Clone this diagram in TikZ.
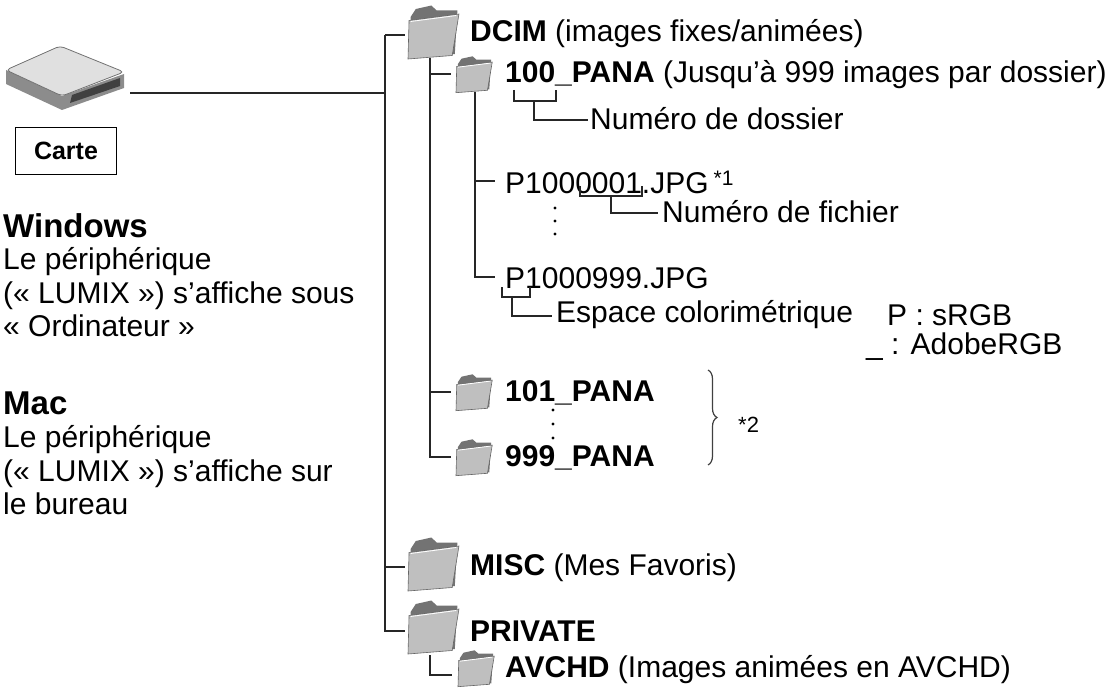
\documentclass[tikz,border=0pt]{standalone}
\usepackage{fontspec}
\setmainfont{Liberation Sans}
\usetikzlibrary{decorations.pathreplacing}
\begin{document}
\begin{tikzpicture}[x=1pt,y=-1pt,
  tx/.style={anchor=west,inner sep=0pt,font=\fontsize{30}{33}\selectfont},
  bl/.style={anchor=base west,inner sep=0pt,font=\fontsize{30}{33}\selectfont},
  hd/.style={anchor=base west,inner sep=0pt,font=\fontsize{33}{36}\selectfont\bfseries},
  ln/.style={line width=1.3pt,black!85},
  folder/.pic={
    \fill[black!55] (0.05,0.18)--(0.05,1)--(0.9,0.92)--(0.95,0.05)--(0.55,0.05)--(0.45,-0.05)--(0.15,0.02)--cycle;
    \filldraw[fill=black!25,draw=black!60,line width=0.6pt] (0.02,0.25)--(0.0,1.02)--(0.85,0.95)--(0.98,0.12)--cycle;
    \draw[white,line width=0.8pt] (0.05,0.27)--(0.93,0.15);
  }]
\useasboundingbox (0,0) rectangle (1109,690);
% card icon
\fill[black!45] (6,70)--(6,84)--(62,110)--(124,88)--(124,74)--(62,96)--cycle;
\filldraw[fill=black!12,draw=black!55,line width=0.8pt,rounded corners=4pt] (6,70)--(60,46)--(124,72)--(62,96)--cycle;
\fill[black!75] (70,103)--(120,86)--(120,78)--(72,95)--cycle;
\coordinate (cardR) at (130,93);
\node[draw,line width=1pt,minimum width=101pt,minimum height=47pt,inner sep=0pt,font=\fontsize{25}{28}\selectfont\bfseries] (carte) at (66,151) {Carte};
% left texts
\node[hd] (win) at (3,237) {Windows};
\node[bl] (w1) at (3,269) {Le périphérique};
\node[bl] (w2) at (3,303) {(« LUMIX ») s’affiche sous};
\node[bl] (w3) at (3,336) {« Ordinateur »};
\node[hd] (mac) at (3,414) {Mac};
\node[bl] (m1) at (3,447) {Le périphérique};
\node[bl] (m2) at (3,481) {(« LUMIX ») s’affiche sur};
\node[bl] (m3) at (3,514) {le bureau};
% main tree
\coordinate (t0) at (385,35);
\coordinate (t1) at (385,93);
\coordinate (t2) at (385,567);
\coordinate (t3) at (385,631);
\draw[ln] (cardR)--(t1);
\draw[ln] (t0)--(t3)--(405,631);
\draw[ln] (t0)--(405,35);
\draw[ln] (t2)--(405,567);
\pic at (408,8) [xscale=52,yscale=50] {folder};
\node[tx] (dcim) at (470,34) {\textbf{DCIM} (images fixes/animées)};
\pic at (408,540) [xscale=52,yscale=50] {folder};
\node[tx] (misc) at (470,568) {\textbf{MISC} (Mes Favoris)};
\pic at (408,603) [xscale=52,yscale=50] {folder};
\node[tx] (priv) at (470,631) {\textbf{PRIVATE}};
\draw[ln] (430,655)--(430,675)--(452,675);
\pic at (458,652) [xscale=37,yscale=34] {folder};
\node[tx] (avchd) at (505,670) {\textbf{AVCHD} (Images animées en AVCHD)};
% DCIM subtree
\draw[ln] (430,58)--(430,457)--(451,457);
\draw[ln] (430,74)--(451,74);
\draw[ln] (430,392)--(451,392);
\pic at (456,58) [xscale=37,yscale=34] {folder};
\node[tx] (p100) at (505,75) {\textbf{100\_PANA} (Jusqu’à 999 images par dossier)};
\pic at (456,376) [xscale=37,yscale=34] {folder};
\node[tx] (p101) at (505,393) {\textbf{101\_PANA}};
\pic at (456,441) [xscale=37,yscale=34] {folder};
\node[tx] (p999) at (505,458) {\textbf{999\_PANA}};
\foreach \y in {410,424,438} \fill (553,\y) circle (1.6);
\draw[line width=1.2pt,black!75,decorate,decoration={brace,amplitude=9pt}] (708,370)--(708,465);
\node[tx,font=\fontsize{22}{24}\selectfont] (n2) at (738,425) {*2};
% 100_PANA subtree
\draw[ln] (475,92)--(475,277)--(495,277);
\draw[ln] (475,181)--(495,181);
\node[tx] (f1) at (505,182) {P1000001.JPG\,\raisebox{8pt}{\fontsize{21}{22}\selectfont *1}};
\node[tx] (f999) at (505,278) {P1000999.JPG};
\foreach \y in {208,221,234} \fill (555,\y) circle (1.6);
\draw[ln] (514,90)--(514,101)--(556,101)--(556,90);
\draw[ln] (534,101)--(534,120)--(588,120);
\node[tx] (nd) at (590,119) {Numéro de dossier};
\draw[ln] (580,186)--(580,196)--(642,196)--(642,186);
\draw[ln] (611,196)--(611,213)--(658,213);
\node[tx] (nf) at (662,212) {Numéro de fichier};
\draw[ln] (502,287)--(502,297)--(530,297)--(530,287);
\draw[ln] (512,297)--(512,316)--(552,316);
\node[tx] (esp) at (556,315) {Espace colorimétrique};
\node[tx] (srgb) at (887,315) {P : sRGB};
\node[tx] (argb) at (866,347) {\_ : AdobeRGB};
\end{tikzpicture}
\end{document}
